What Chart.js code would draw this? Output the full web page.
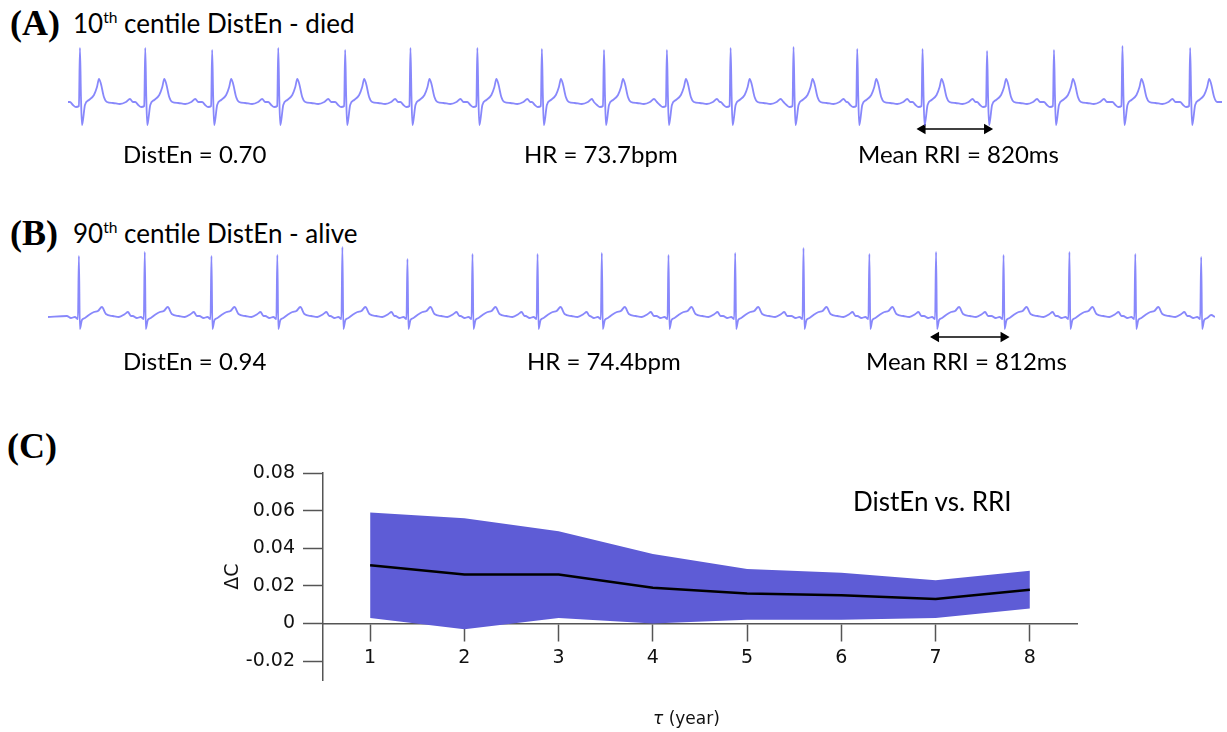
<!DOCTYPE html>
<html>
<head>
<meta charset="utf-8">
<script src="https://cdn.jsdelivr.net/npm/chart.js@4/dist/chart.umd.min.js"></script>
<style>
  html, body { margin: 0; padding: 0; background: #fff; }
  body { width: 1227px; height: 732px; position: relative; overflow: hidden; }
  canvas { position: absolute; }
  .txt { position: absolute; white-space: nowrap; line-height: 1; color: #000; }
  .panel { font-family: "Liberation Serif", serif; font-weight: bold; font-size: 36px; }
  .title { font-family: Lato, sans-serif; font-size: 26px; }
  .title sup { font-size: 0.6em; line-height: 0; vertical-align: 0.65em; }
  .note { font-family: Lato, sans-serif; font-size: 24px; }
  .axis { font-family: "DejaVu Sans", sans-serif; font-size: 17px; color: #111; }
</style>
</head>
<body>
<div class="txt panel" style="left:10px;top:5px">(A)</div>
<div class="txt title" style="left:73px;top:10px">10<sup>th</sup> centile DistEn - died</div>
<canvas id="ecgA" width="1154" height="100" style="left:68px;top:40px"></canvas>
<div class="txt note" style="left:123px;top:142px">DistEn = 0.70</div>
<div class="txt note" style="left:524px;top:142px">HR = 73.7bpm</div>
<div class="txt note" style="left:858px;top:142px">Mean RRI = 820ms</div>

<div class="txt panel" style="left:10px;top:215px">(B)</div>
<div class="txt title" style="left:73px;top:220px">90<sup>th</sup> centile DistEn - alive</div>
<canvas id="ecgB" width="1167" height="110" style="left:48px;top:240px"></canvas>
<div class="txt note" style="left:123px;top:349px">DistEn = 0.94</div>
<div class="txt note" style="left:527px;top:349px">HR = 74.4bpm</div>
<div class="txt note" style="left:866px;top:349px">Mean RRI = 812ms</div>

<div class="txt panel" style="left:7px;top:428px">(C)</div>
<canvas id="deltaC" width="1000" height="292" style="left:200px;top:440px"></canvas>
<div class="txt title" style="left:853px;top:488px">DistEn vs. RRI</div>
<div class="txt axis" style="left:653px;top:710px"><i>τ</i> (year)</div>

<script>
// ---- (A) 10th centile DistEn - died ----
const beatsA = [0.15, 0.97, 1.81, 2.64, 3.48, 4.30, 5.14, 5.95, 6.73, 7.52, 8.32, 9.11, 9.91, 10.73, 11.54, 12.38, 13.24, 14.09]; // R peaks (s)
const rAmpA = [1.08, 1.08, 1.04, 1.08, 1.04, 1.08, 1.08, 1.06, 1.04, 1.04, 1.08, 1.10, 1.06, 1.06, 1.02, 1.04, 1.12, 1.08]; // mV
// one beat: [ms from R peak, mV], 'R' = peak of that beat
const beatShapeA = [[-126, 0.00], [-88, -0.06], [-50, -0.10], [-13, -0.08], [0, 'R'], [13, 0.10], [25, -0.46],
    [38, -0.36], [63, -0.06], [113, 0.04], [176, 0.14], [214, 0.30], [239, 0.46], [264, 0.36], [301, 0.10],
    [339, 0.00], [414, -0.02], [502, -0.04], [578, 0.00], [628, 0.06], [666, 0.00]];
const lengthA = 14.49;       // s shown
const rriArrowA = [10.73, 11.54];

// ---- (B) 90th centile DistEn - alive ----
const beatsB = [0.38, 1.19, 2.01, 2.82, 3.62, 4.42, 5.22, 6.02, 6.81, 7.63, 8.45, 9.29, 10.10, 10.92, 11.75, 12.56, 13.37, 14.18];
const rAmpB = [1.22, 1.30, 1.22, 1.24, 1.40, 1.16, 1.26, 1.26, 1.28, 1.24, 1.28, 1.38, 1.26, 1.30, 1.24, 1.30, 1.26, 1.20];
const beatShapeB = [[-148, 0.02], [-98, -0.02], [-49, 0.00], [-12, -0.04], [0, 'R'], [12, -0.24], [37, -0.06],
    [74, -0.02], [123, 0.04], [185, 0.10], [234, 0.12], [283, 0.20], [332, 0.06], [418, 0.02], [492, 0.00],
    [566, 0.06], [603, 0.10], [640, 0.02]];
const lengthB = 14.35;
const rriArrowB = [10.92, 11.75];

// ---- (C) DistEn vs. RRI ----
const tauYears = [1, 2, 3, 4, 5, 6, 7, 8];
const deltaCMean = [0.031, 0.026, 0.026, 0.019, 0.016, 0.015, 0.013, 0.018];
const deltaCUpper = [0.059, 0.056, 0.049, 0.037, 0.029, 0.027, 0.023, 0.028];
const deltaCLower = [0.003, -0.003, 0.003, 0.000, 0.002, 0.002, 0.003, 0.008];
const yTickValues = [-0.02, 0, 0.02, 0.04, 0.06, 0.08];

const traceColor = 'rgba(90, 90, 250, 0.72)';
const bandColor = '#5e5cd6';
const axisColor = '#555';

/**
 * Lays the beat shape on every R peak, cutting each beat where the next one begins.
 */
function buildTrace(beats, amps, shape, length) {
    const pts = [{x: 0, y: 0}];
    const lead = shape[0][0] / 1000;
    beats.forEach((r, i) => {
        const stop = i < beats.length - 1 ? beats[i + 1] + lead : length;
        shape.forEach(([ms, v]) => {
            const t = r + ms / 1000;
            if (t <= 0 || t >= stop) return;
            pts.push({x: t, y: v === 'R' ? amps[i] : v});
        });
    });
    pts.push({x: length, y: 0});
    return pts;
}

function arrowDataset(ends, y) {
    return {
        data: ends.map(x => ({x: x, y: y})),
        borderColor: '#000',
        borderWidth: 1.5,
        pointStyle: 'triangle',
        pointRotation: [-90, 90],
        pointRadius: 4.5,
        pointBackgroundColor: '#000',
        pointBorderColor: '#000'
    };
}

function ecgChart(id, beats, amps, shape, length, arrow, arrowY, yMin, yMax) {
    return new Chart(document.getElementById(id), {
        type: 'line',
        data: {
            datasets: [
                {
                    data: buildTrace(beats, amps, shape, length),
                    borderColor: traceColor,
                    borderWidth: 1.8,
                    pointRadius: 0,
                    cubicInterpolationMode: 'monotone'
                },
                arrowDataset(arrow, arrowY)
            ]
        },
        options: {
            responsive: false,
            animation: false,
            layout: { padding: 0, autoPadding: false },
            plugins: { legend: { display: false }, tooltip: { enabled: false } },
            scales: {
                x: { type: 'linear', min: 0, max: length, display: false },
                y: { min: yMin, max: yMax, display: false }
            }
        }
    });
}

ecgChart('ecgA', beatsA, rAmpA, beatShapeA, lengthA, rriArrowA, -0.54, -0.76, 1.24);
ecgChart('ecgB', beatsB, rAmpB, beatShapeB, lengthB, rriArrowB, -0.40, -0.66, 1.54);

const tickFont = { family: 'DejaVu Sans', size: 19 };

new Chart(document.getElementById('deltaC'), {
    type: 'line',
    data: {
        datasets: [
            {
                data: tauYears.map((t, i) => ({x: t, y: deltaCUpper[i]})),
                borderWidth: 0,
                pointRadius: 0,
                backgroundColor: bandColor,
                fill: '+1',
                order: 2
            },
            {
                data: tauYears.map((t, i) => ({x: t, y: deltaCLower[i]})),
                borderWidth: 0,
                pointRadius: 0,
                fill: false,
                order: 2
            },
            {
                data: tauYears.map((t, i) => ({x: t, y: deltaCMean[i]})),
                borderColor: '#000',
                borderWidth: 2.5,
                pointRadius: 0,
                fill: false,
                order: 0
            }
        ]
    },
    options: {
        responsive: false,
        animation: false,
        layout: { padding: { top: 33, right: 123, bottom: 52, left: 0 }, autoPadding: false },
        plugins: {
            legend: { display: false },
            tooltip: { enabled: false },
            filler: { drawTime: 'beforeDatasetsDraw' }
        },
        scales: {
            x: {
                type: 'linear',
                min: 0.5,
                max: 8.5,
                position: { y: 0 },
                afterBuildTicks: s => { s.ticks = tauYears.map(v => ({value: v})); },
                grid: { drawOnChartArea: false, tickLength: 17, tickColor: axisColor, tickWidth: 1.5 },
                border: { color: axisColor, width: 1.5 },
                ticks: { font: tickFont, color: '#111', padding: 6 }
            },
            y: {
                min: -0.03,
                max: 0.08,
                afterBuildTicks: s => { s.ticks = yTickValues.map(v => ({value: v})); },
                afterFit: s => { s.width = 123; },
                grid: { drawOnChartArea: false, tickLength: 20, tickColor: axisColor, tickWidth: 1.5 },
                border: { color: axisColor, width: 1.5 },
                ticks: {
                    font: tickFont,
                    color: '#111',
                    padding: 8,
                    callback: v => v === 0 ? '0' : v.toFixed(2)
                },
                title: {
                    display: true,
                    text: 'ΔC',
                    font: { family: 'DejaVu Sans', size: 19 },
                    color: '#111',
                    padding: { top: 22, bottom: 0 }
                }
            }
        }
    }
});
</script>
</body>
</html>
